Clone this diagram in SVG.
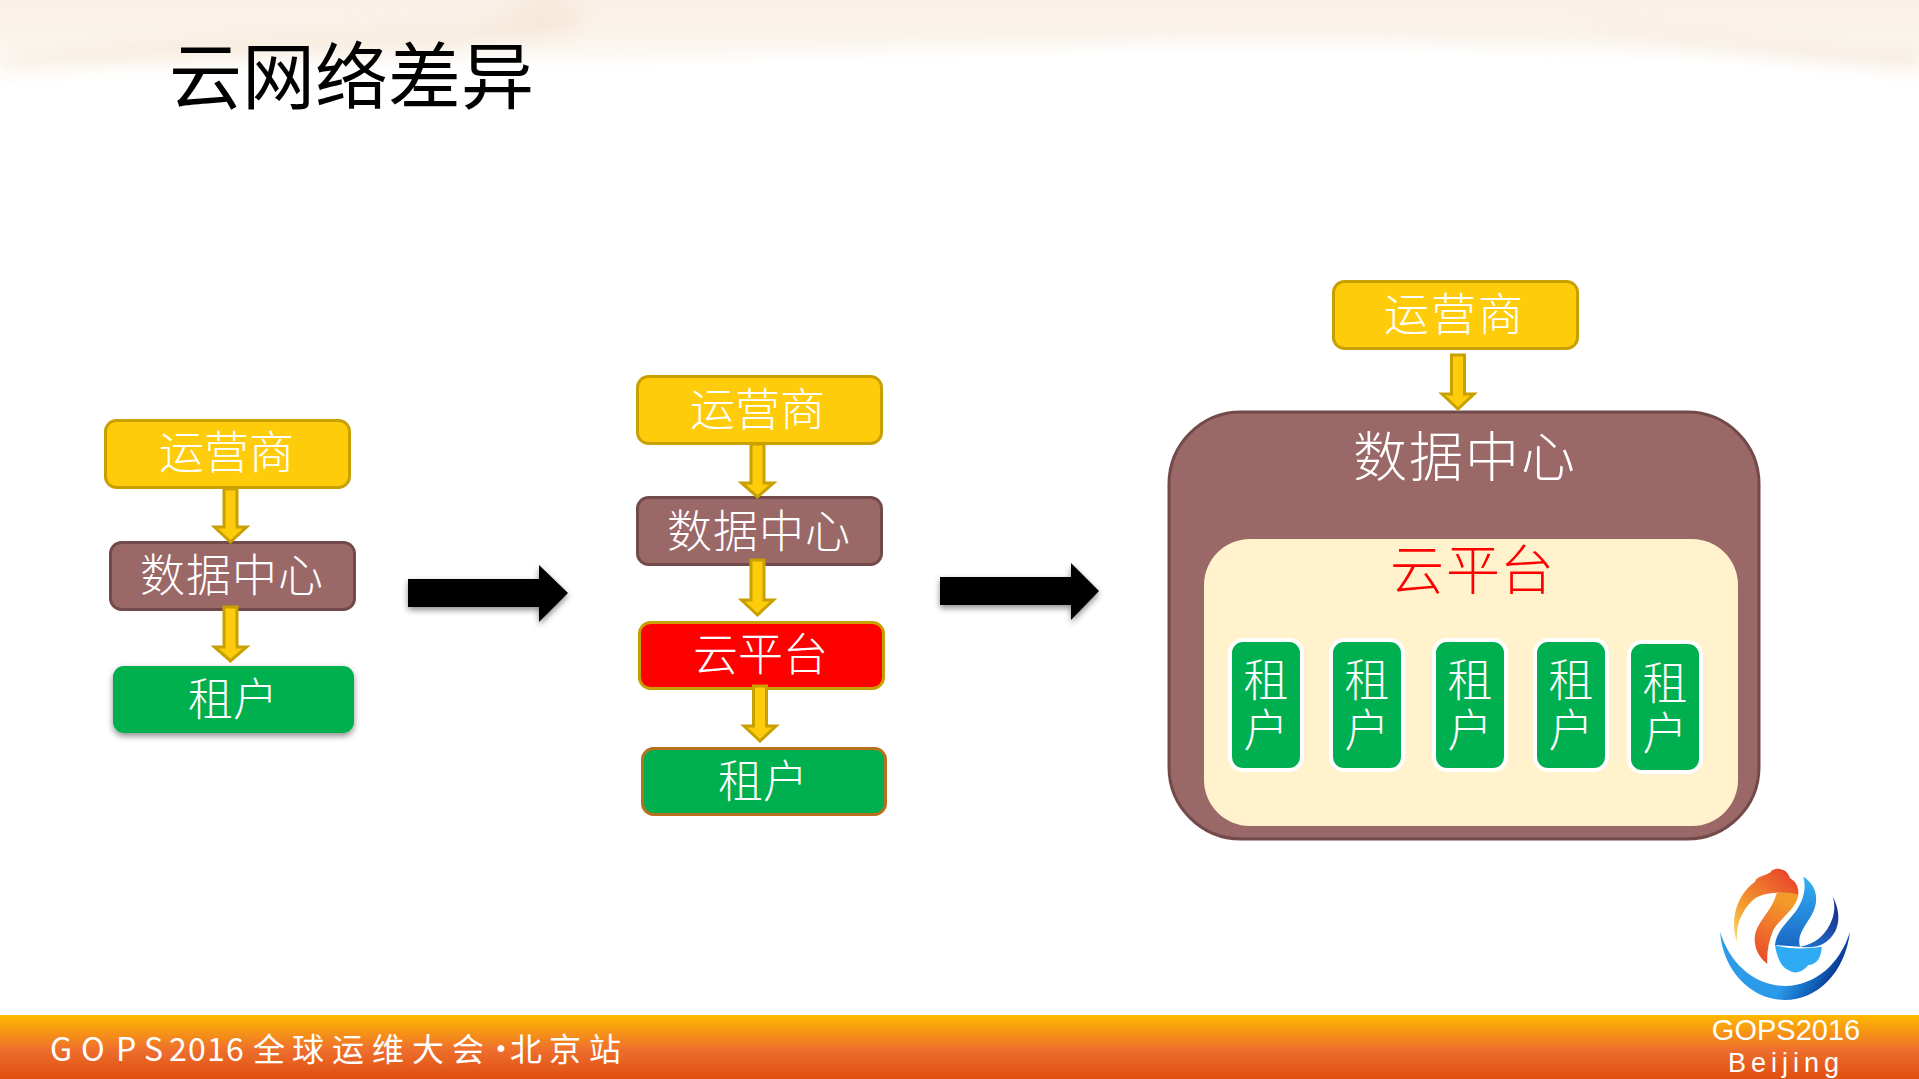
<svg xmlns="http://www.w3.org/2000/svg" width="1919" height="1079" viewBox="0 0 1919 1079">
<style>
text{font-family:"Noto Sans CJK SC","Noto Sans",sans-serif;font-weight:300;fill:#fff}
.t{font-size:45px}
.v{font-size:45px;writing-mode:vertical-rl;letter-spacing:5px}
.big{font-size:54px}
.y{fill:#FFCC0B;stroke:#C8A000;stroke-width:3}
.b{fill:#9B6868;stroke:#734A4A;stroke-width:3}
.g{fill:#00B050}
.r{fill:#FF0000;stroke:#C8A000;stroke-width:3}
.a{fill:#FFCC0B;stroke:#C8A000;stroke-width:3}
.k{fill:#000;filter:url(#sh)}
.w{fill:#00B050;stroke:#fff;stroke-width:4}
</style>
<defs>
<filter id="sh" x="-20%" y="-30%" width="140%" height="170%"><feDropShadow dx="0" dy="3" stdDeviation="3" flood-color="#000" flood-opacity="0.45"/></filter>
<filter id="bl" x="-30%" y="-100%" width="160%" height="300%"><feGaussianBlur stdDeviation="9"/></filter>
<filter id="bl2f" x="-5%" y="-30%" width="110%" height="160%"><feGaussianBlur stdDeviation="7"/></filter>
<linearGradient id="foot" x1="0" y1="0" x2="0" y2="1"><stop offset="0" stop-color="#FFB900"/><stop offset="0.55" stop-color="#EE6E2D"/><stop offset="1" stop-color="#DF4F10"/></linearGradient>
<linearGradient id="top" x1="0" y1="0" x2="0" y2="1"><stop offset="0" stop-color="#F8ECE0"/><stop offset="0.6" stop-color="#FAF3EB"/><stop offset="1" stop-color="#FDFBF8"/></linearGradient>
<linearGradient id="cres" x1="0" y1="0" x2="1" y2="0.3"><stop offset="0" stop-color="#2E9BE6"/><stop offset="0.65" stop-color="#2A9AEA"/><stop offset="0.88" stop-color="#0F5FB8"/><stop offset="1" stop-color="#0A2F8C"/></linearGradient>
<linearGradient id="or" x1="0" y1="1" x2="0.8" y2="0"><stop offset="0" stop-color="#F6E27A"/><stop offset="0.35" stop-color="#F4A030"/><stop offset="1" stop-color="#E8452A"/></linearGradient>
<linearGradient id="or2" x1="0" y1="1" x2="0.3" y2="0"><stop offset="0" stop-color="#E8452A"/><stop offset="1" stop-color="#F49A2A"/></linearGradient>
<linearGradient id="bl1" x1="0" y1="0" x2="0" y2="1"><stop offset="0" stop-color="#35B0F2"/><stop offset="0.55" stop-color="#2488DC"/><stop offset="1" stop-color="#1B68C4"/></linearGradient>
<linearGradient id="bl2" x1="0" y1="1" x2="0.6" y2="0"><stop offset="0" stop-color="#2479D2"/><stop offset="1" stop-color="#1A2F8E"/></linearGradient>
</defs>
<rect width="1919" height="1079" fill="#fff"/>
<g id="background">
<path d="M-30 -30H1950V72C1800 58 1650 50 1450 46 1250 42 1000 46 800 54 500 62 200 66 -30 62Z" fill="url(#top)" filter="url(#bl2f)"/>
<path d="M0 58C120 40 300 32 470 26 520 16 530 8 520 0H560C590 14 590 30 560 36 480 44 240 52 0 72Z" fill="#F3DFC8" opacity="0.45" filter="url(#bl)"/>
<path d="M1560 22C1660 28 1780 48 1919 50V70C1800 60 1680 40 1560 22Z" fill="#F0DCCB" opacity="0.45" filter="url(#bl)"/>
</g>
<text id="title" x="169" y="103" style="font-size:73px;font-weight:400;fill:#000">云网络差异</text>
<g id="left-operator"><rect class="y" x="105.500" y="420.500" width="244" height="67" rx="11"/><text class="t" x="159 204 249" y="469">运营商</text></g>
<g id="left-datacenter"><rect class="b" x="110.500" y="542.500" width="244" height="67" rx="11"/><text class="t" x="140 186 232 278" y="592">数据中心</text></g>
<g id="left-tenant"><rect class="g" x="113" y="666" width="241" height="67" rx="11" filter="url(#sh)"/><text class="t" x="188 233" y="716">租户</text></g>
<g id="mid-operator"><rect class="y" x="637.500" y="376.500" width="244" height="67" rx="11"/><text class="t" x="690 735 780" y="426">运营商</text></g>
<g id="mid-datacenter"><rect class="b" x="637.500" y="497.500" width="244" height="67" rx="11"/><text class="t" x="667 713 759 805" y="548">数据中心</text></g>
<g id="mid-cloud"><rect class="r" x="639.500" y="622.500" width="244" height="66" rx="11"/><text class="t" x="693 738 783" y="671">云平台</text></g>
<g id="mid-tenant"><rect class="g" x="642.500" y="748.500" width="243" height="66" rx="11" style="stroke:#B8701E;stroke-width:3"/><text class="t" x="718 763" y="798">租户</text></g>
<g id="right-operator"><rect class="y" x="1333.500" y="281.500" width="244" height="67" rx="11"/><text class="t" x="1384 1431 1478" y="331">运营商</text></g>
<g id="right-datacenter"><rect class="b" x="1169" y="412" width="590" height="427" rx="72"/><text class="big" x="1353 1409 1465 1521" y="477">数据中心</text></g>
<g id="right-cloud"><rect x="1204" y="539" width="534" height="287" rx="46" fill="#FFF2CC"/><text class="big" x="1390 1446 1500" y="590" style="fill:#f00">云平台</text></g>
<g id="tenant-1"><rect class="w" x="1230" y="640" width="72" height="130" rx="13"/><text class="v" x="1266" y="657">租户</text></g>
<g id="tenant-2"><rect class="w" x="1331" y="640" width="72" height="130" rx="13"/><text class="v" x="1367" y="657">租户</text></g>
<g id="tenant-3"><rect class="w" x="1434" y="640" width="72" height="130" rx="13"/><text class="v" x="1470" y="657">租户</text></g>
<g id="tenant-4"><rect class="w" x="1535" y="640" width="72" height="130" rx="13"/><text class="v" x="1571" y="657">租户</text></g>
<g id="tenant-5"><rect class="w" x="1629" y="642" width="72" height="130" rx="13"/><text class="v" x="1665" y="660">租户</text></g>
<g id="connectors">
<path class="a" d="M224 489H237V527H246.500L230.500 542 214.500 527H224Z"/>
<path class="a" d="M224 607H237V647H246.500L230.500 661 214.500 647H224Z"/>
<path class="a" d="M751 444H764V483H773.500L757.500 497 741.500 483H751Z"/>
<path class="a" d="M751 560H764V600H773.500L757.500 615 741.500 600H751Z"/>
<path class="a" d="M753.500 686H766.500V726H776L760 741 744 726H753.500Z"/>
<path class="a" d="M1451.500 355H1464.500V394H1474L1458 409 1442 394H1451.500Z"/>
<path class="k" d="M408 579H539V565L568 593 539 622V607H408Z"/>
<path class="k" d="M940 577H1071V563L1099 591 1071 620V605H940Z"/>
</g>
<rect id="footer" x="0" y="1015" width="1919" height="64" fill="url(#foot)"/>
<text id="footer-text" x="50 81 116 144 169 188 207 226 253 292 332 372 412 452 485 510 549 589" y="1061" style="font-size:32px;font-weight:400">GOPS2016全球运维大会·北京站</text>
<g id="logo" transform="translate(1640 850) scale(.3333)">
<path d="M240 245C250 370 340 450 435 450 530 450 615 370 630 245 600 340 530 405 435 408 340 405 270 340 240 245Z" fill="url(#cres)"/>
<path d="M292 278C265 205 295 130 345 95 350 75 385 78 395 62 415 48 445 60 450 85 470 95 477 115 475 135 430 125 380 125 345 145 310 175 285 220 292 278Z" fill="url(#or)"/>
<path d="M475 135C470 175 420 205 400 240 385 275 380 310 382 342 355 320 340 290 345 255 355 210 395 185 410 130 435 125 460 128 475 135Z" fill="url(#or2)"/>
<path d="M490 80C530 105 540 150 515 195 495 230 470 255 480 290L405 285C410 240 445 215 470 180 490 150 500 115 490 80Z" fill="url(#bl1)"/>
<path d="M578 140C605 190 600 240 565 270 545 290 515 295 480 290 510 285 540 270 560 240 580 210 590 175 578 140Z" fill="url(#bl2)"/>
<path d="M405 285C440 297 490 298 545 290 545 320 530 345 505 345 490 365 465 375 445 360 425 355 410 320 405 285Z" fill="#2FAAF5"/>
</g>
<text x="1786" y="1040" text-anchor="middle" style="font-family:'Liberation Sans',sans-serif;font-size:29px">GOPS2016</text>
<text x="1786" y="1072" text-anchor="middle" style="font-family:'Liberation Sans',sans-serif;font-size:27px;letter-spacing:5px">Beijing</text>
</svg>
